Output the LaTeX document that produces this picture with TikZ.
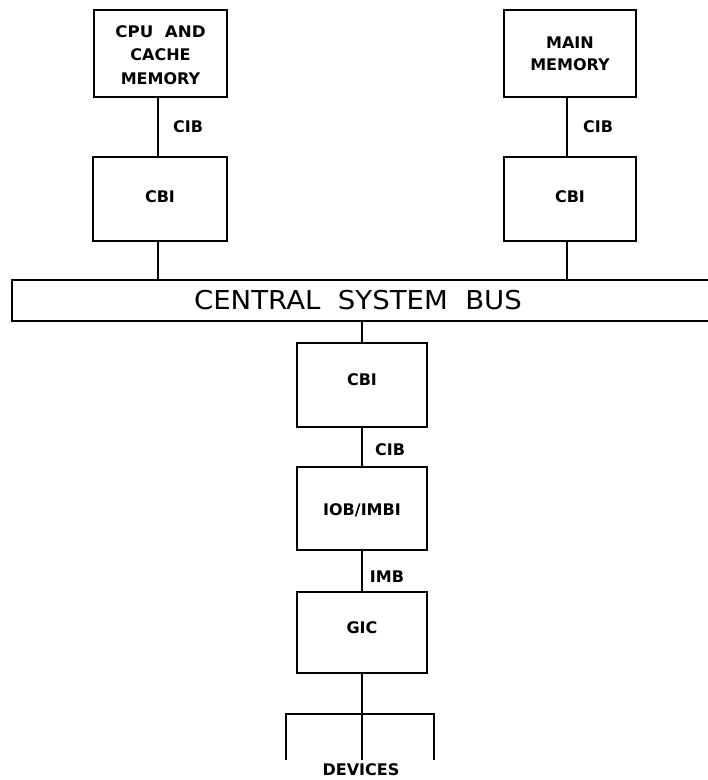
\documentclass[tikz,border=0pt]{standalone}
\usepackage{fontspec}
\usepackage{graphicx}
\setmainfont{DejaVu Sans}
\begin{document}
\begin{tikzpicture}[x=1pt,y=-1pt,
  box/.style={draw,line width=2pt,inner sep=0pt,minimum width=132pt,minimum height=84pt},
  lbl/.style={font=\fontsize{16}{22}\bfseries\selectfont,align=center,inner sep=0pt},
  busl/.style={font=\fontsize{26}{30}\selectfont,inner sep=0pt},
  wire/.style={line width=2pt}]
\useasboundingbox (0,0) rectangle (708,780);
% top boxes
\node[box,minimum width=133pt,minimum height=87pt] (cpu) at (160.5,53.5) {};
\node[lbl,font=\fontsize{16}{23.5}\bfseries\selectfont] (cputext) at (160.5,55) {\scalebox{1.04}[1]{CPU\ \ AND}\\CACHE\\MEMORY};
\node[box,minimum height=87pt] (main) at (570,53.5) {};
\node[lbl] (maintext) at (570,54) {MAIN\\MEMORY};
\node[box,minimum width=134pt] (cbil) at (160,199) {};
\node[lbl] (cbiltext) at (160,197) {CBI};
\node[box] (cbir) at (570,199) {};
\node[lbl] (cbirtext) at (570,197) {CBI};
% bus
\node[draw,line width=2pt,inner sep=0pt,minimum width=730pt,minimum height=41pt] (bus) at (377,300.5) {};
\node[busl] (bustext) at (358,300) {\scalebox{1.06}[1]{CENTRAL\ \ SYSTEM\ \ BUS}};
% centre column
\node[box,minimum width=130pt] (cbic) at (362,385) {};
\node[lbl] (cbictext) at (362,380) {CBI};
\node[box,minimum width=130pt,minimum height=83pt] (iob) at (362,508.5) {};
\node[lbl] (iobtext) at (362,510) {IOB/IMBI};
\node[box,minimum width=130pt,minimum height=81pt] (gic) at (362,632.5) {};
\node[lbl] (gictext) at (362,628) {GIC};
% labels
\node[lbl] (cib1) at (188,127) {CIB};
\node[lbl] (cib2) at (598,127) {CIB};
\node[lbl] (cib3) at (390,450) {CIB};
\node[lbl] (imb) at (387,577) {IMB};
% connectors
\draw[wire] (cpu.south -| 158,0) -- (cbil.north -| 158,0);
\draw[wire] (main.south -| 567,0) -- (cbir.north -| 567,0);
\draw[wire] (cbil.south -| 158,0) -- (bus.north -| 158,0);
\draw[wire] (cbir.south -| 567,0) -- (bus.north -| 567,0);
\draw[wire] (bus.south -| 362,0) -- (cbic.north);
\draw[wire] (cbic.south) -- (iob.north);
\draw[wire] (iob.south) -- (gic.north);
% devices
\coordinate (dj) at (362,714);
\coordinate (dl) at (286,714);
\coordinate (dr) at (434,714);
\coordinate (dlb) at (286,760);
\coordinate (dcb) at (362,760);
\coordinate (drb) at (434,760);
\draw[wire] (gic.south) -- (dj) -- (dcb);
\draw[wire] (dlb) -- (dl) -- (dr) -- (drb);
\node[lbl] (devices) at (361,770) {DEVICES};
\end{tikzpicture}
\end{document}
